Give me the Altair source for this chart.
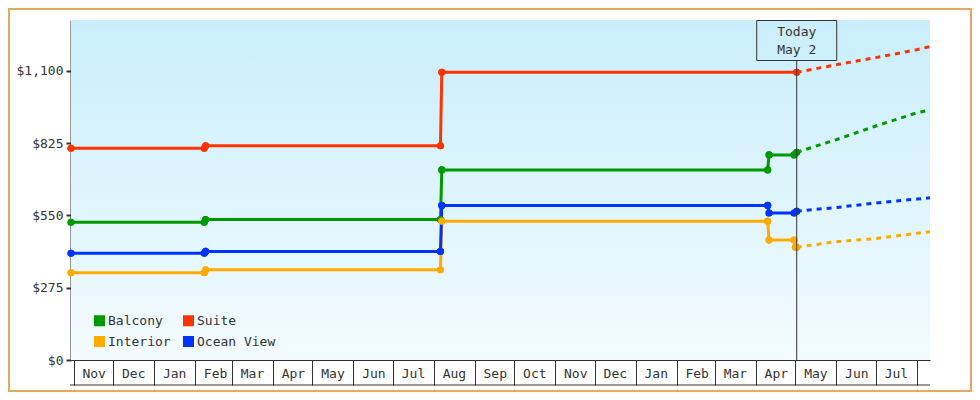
import altair as alt
import pandas as pd

FONT = "DejaVu Sans Mono"
INK = "#333333"

series_names = ["Balcony", "Suite", "Interior", "Ocean View"]
series_colors = ["#009900", "#ff3300", "#ffaa00", "#0033ff"]

# observed price history
balcony_dates = ["2022-10-30", "2023-02-08", "2023-02-09", "2023-08-06", "2023-08-07",
                 "2024-04-10", "2024-04-11", "2024-04-30", "2024-05-02"]
balcony_prices = [524, 524, 534, 534, 723, 723, 780, 780, 790]

suite_dates = ["2022-10-30", "2023-02-08", "2023-02-09", "2023-08-06", "2023-08-07", "2024-05-02"]
suite_prices = [805, 805, 815, 815, 1094, 1094]

interior_dates = ["2022-10-30", "2023-02-08", "2023-02-09", "2023-08-06", "2023-08-07",
                  "2024-04-10", "2024-04-11", "2024-04-30", "2024-05-01", "2024-05-02"]
interior_prices = [332, 332, 343, 343, 528, 528, 456, 456, 429, 429]

ocean_dates = ["2022-10-30", "2023-02-08", "2023-02-09", "2023-08-06", "2023-08-07",
               "2024-04-10", "2024-04-11", "2024-04-30", "2024-05-02"]
ocean_prices = [406, 406, 413, 413, 588, 588, 559, 559, 566]

# projected prices (dashed)
forecast_dates = ["2024-05-02", "2024-06-01", "2024-07-01", "2024-08-01", "2024-08-11"]
balcony_forecast = [790, 838, 890, 940, 951]
suite_forecast = [1094, 1123, 1150, 1180, 1192]
interior_forecast = [429, 450, 462, 482, 488]
ocean_forecast = [566, 580, 597, 612, 617]

today_date = ["2024-05-02"]
today_label = ["Today\nMay 2"]

y_ticks = [0, 275, 550, 825, 1100]

# ---- tables ----
hist_rows = []
for name, ds, ps in [("Balcony", balcony_dates, balcony_prices),
                     ("Suite", suite_dates, suite_prices),
                     ("Interior", interior_dates, interior_prices),
                     ("Ocean View", ocean_dates, ocean_prices)]:
    for d, p in zip(ds, ps):
        hist_rows.append({"date": d, "price": p, "cabin": name})
hist = pd.DataFrame(hist_rows)

fc_rows = []
for name, ps in [("Balcony", balcony_forecast), ("Suite", suite_forecast),
                 ("Interior", interior_forecast), ("Ocean View", ocean_forecast)]:
    for d, p in zip(forecast_dates, ps):
        fc_rows.append({"date": d, "price": p, "cabin": name})
fc = pd.DataFrame(fc_rows)

today = pd.DataFrame({"date": today_date, "label": today_label})
one = pd.DataFrame({"a": [0]})

W, H = 859, 340

x_enc = alt.X(
    "date:T",
    title=None,
    scale=alt.Scale(type="utc", nice=False,
                    domain=[alt.DateTime(year=2022, month=10, date=30, utc=True),
                            alt.DateTime(year=2024, month=8, date=11, utc=True)]),
    axis=alt.Axis(labelExpr="datum.value > utc(2024, 6, 20) ? '' : utcFormat(datum.value, '%b')",
                  tickCount=alt.TimeIntervalStep(interval="month", step=1),
                  tickSize=25, tickWidth=1, tickColor=INK,
                  domainColor=INK, domainWidth=1,
                  labelAlign="center", labelOffset=20, labelPadding=-18,
                  labelFlush=False, labelOverlap=False,
                  labelFont=FONT, labelFontSize=13, labelColor=INK, grid=False),
)
y_enc = alt.Y(
    "price:Q",
    title=None,
    scale=alt.Scale(domain=[0, 1293], nice=False),
    axis=alt.Axis(values=y_ticks, format="$,.0f", tickSize=5, tickWidth=2,
                  tickColor=INK, domainColor=INK, domainWidth=2, labelPadding=3,
                  labelFont=FONT, labelFontSize=13, labelColor=INK, grid=False),
)
color_scale = alt.Scale(domain=series_names, range=series_colors)

bg = alt.Chart(one).mark_rect(
    color=alt.LinearGradient(gradient="linear",
                             stops=[alt.GradientStop(color="#c9eefb", offset=0),
                                    alt.GradientStop(color="#f3fbff", offset=1)],
                             x1=0, x2=0, y1=0, y2=1)
).encode(x=alt.value(0), x2=alt.value(W), y=alt.value(0), y2=alt.value(H))

border = alt.Chart(one).mark_rect(filled=False, stroke="#e6a862", strokeWidth=2).encode(
    x=alt.value(-62), x2=alt.value(W + 41), y=alt.value(-11), y2=alt.value(H + 31))

bottom_line = alt.Chart(one).mark_rule(color=INK, strokeWidth=1).encode(
    x=alt.value(-1), x2=alt.value(W), y=alt.value(H + 25))

legend_points = alt.Chart(hist).mark_circle(size=50, opacity=1).encode(
    x=x_enc, y=y_enc,
    color=alt.Color("cabin:N", scale=color_scale,
                    legend=alt.Legend(orient="none", legendX=22, legendY=294, columns=2,
                                      direction="horizontal",
                                      symbolType="square", symbolSize=121,
                                      symbolStrokeWidth=0, labelFont=FONT,
                                      labelFontSize=13, labelColor=INK, labelOffset=2,
                                      columnPadding=11, rowPadding=7, padding=0,
                                      title=None)))

lines = alt.Chart(hist).mark_line(strokeWidth=3).encode(
    x=x_enc, y=y_enc,
    color=alt.Color("cabin:N", scale=color_scale, legend=None),
    detail="cabin:N")

points = alt.Chart(hist).mark_circle(size=50, opacity=1).encode(
    x=x_enc, y=y_enc,
    color=alt.Color("cabin:N", scale=color_scale, legend=None))

dashed = alt.Chart(fc).mark_line(strokeWidth=3, strokeDash=[5, 5]).encode(
    x=x_enc, y=y_enc,
    color=alt.Color("cabin:N", scale=color_scale, legend=None),
    detail="cabin:N")

today_rule = alt.Chart(today).mark_rule(color=INK, strokeWidth=1).encode(
    x=x_enc, y=alt.value(40), y2=alt.value(H))

today_box = alt.Chart(today).mark_rect(filled=False, stroke=INK, strokeWidth=1,
                                       xOffset=-40, x2Offset=40).encode(
    x=x_enc, x2="date:T", y=alt.value(0.5), y2=alt.value(40.5))

today_text = alt.Chart(today).mark_text(font=FONT, fontSize=13, color=INK, align="center",
                                        baseline="top", lineBreak="\n",
                                        lineHeight=17.5).encode(
    x=x_enc, y=alt.value(6), text="label:N")

chart = alt.layer(bg, border, bottom_line, legend_points, lines, points, dashed,
                  today_rule, today_box, today_text).properties(
    width=W, height=H,
    autosize=alt.AutoSizeParams(type="none"),
    padding={"left": 63, "top": 12, "right": 42, "bottom": 32},
).configure_view(strokeWidth=0)

chart.save("out.html", embed_options={"renderer": "svg", "actions": False})
